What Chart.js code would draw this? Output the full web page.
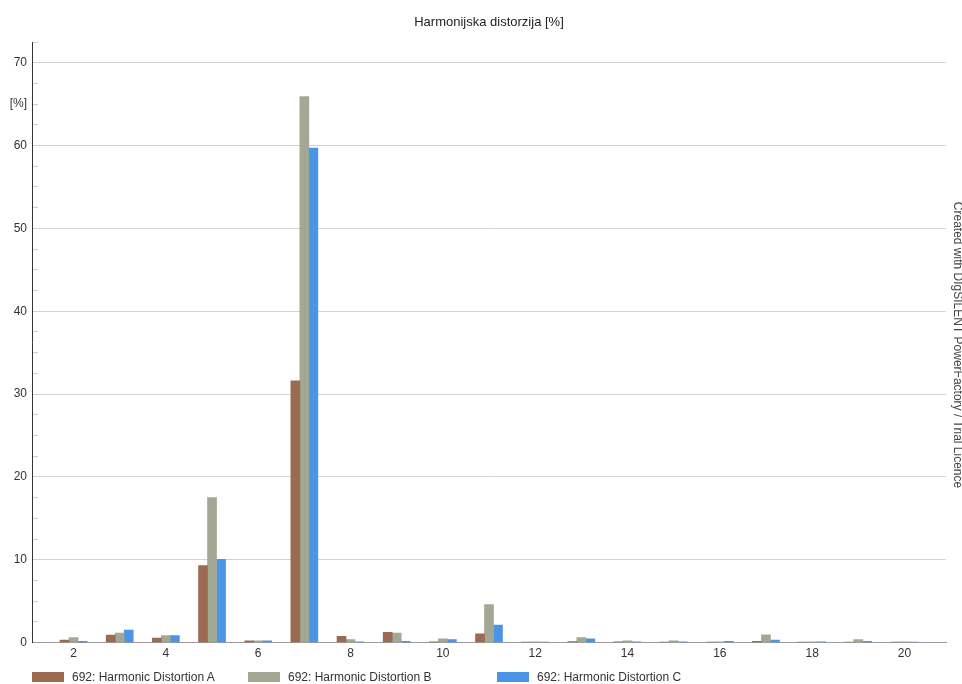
<!DOCTYPE html>
<html>
<head>
<meta charset="utf-8">
<script src="https://cdn.jsdelivr.net/npm/chart.js@4.4.1/dist/chart.umd.min.js"></script>
<style>
  body { margin: 0; background: #fff; }
  #wrap { position: relative; width: 962px; height: 684px; }
  #legend { position: absolute; left: 0; top: 670px; width: 962px; height: 14px;
            font: 12px Arial, 'Liberation Sans', sans-serif; color: #333; }
  .item { position: absolute; top: 0; height: 14px; display: flex; align-items: center; white-space: nowrap; }
  .box { width: 32px; height: 10px; margin-right: 8px; }
</style>
</head>
<body>
<div id="wrap">
  <canvas id="harmonics" width="962" height="684"></canvas>
  <div id="legend"></div>
</div>
<script>
// harmonic order on the x axis
const harmonics = [2, 3, 4, 5, 6, 7, 8, 9, 10, 11, 12, 13, 14, 15, 16, 17, 18, 19, 20];

// values, in %
const distA = [0.3, 0.9, 0.55, 9.3, 0.2, 31.6, 0.75, 1.25, 0.1, 1.05, 0.05, 0.12, 0.08, 0.05, 0.05, 0.15, 0.05, 0.05, 0.05];
const distB = [0.6, 1.15, 0.85, 17.5, 0.2, 65.9, 0.35, 1.15, 0.45, 4.6, 0.1, 0.6, 0.2, 0.2, 0.1, 0.95, 0.1, 0.35, 0.1];
const distC = [0.15, 1.5, 0.85, 10.05, 0.2, 59.7, 0.1, 0.15, 0.35, 2.1, 0.05, 0.45, 0.1, 0.1, 0.15, 0.3, 0.1, 0.15, 0.05];

const seriesNames = ['692: Harmonic Distortion A', '692: Harmonic Distortion B', '692: Harmonic Distortion C'];
const seriesColors = ['#9b6a50', '#a2a893', '#4a95e6'];

const xTicks = [2, 4, 6, 8, 10, 12, 14, 16, 18, 20];
const yMajor = [0, 10, 20, 30, 40, 50, 60, 70];
const yUnitAt = 65;
const yUnit = '[%]';

const chartTitle = 'Harmonijska distorzija [%]';
const watermark = 'Created with DIgSILENT PowerFactory / Trial Licence';

const FONT = "Arial, 'Liberation Sans', sans-serif";

function toPoints(values) {
    return harmonics.map((h, i) => ({ x: h, y: values[i] }));
}

// title over the plot area and the rotated note on the right edge
const captions = {
    id: 'captions',
    afterDraw(chart) {
        const { ctx, chartArea } = chart;
        ctx.save();
        ctx.fillStyle = '#222';
        ctx.font = '13px ' + FONT;
        ctx.textAlign = 'center';
        ctx.textBaseline = 'middle';
        ctx.fillText(chartTitle, (chartArea.left + chartArea.right) / 2, 22);

        ctx.translate(957, 345);
        ctx.rotate(Math.PI / 2);
        ctx.fillStyle = '#444';
        ctx.font = '12px ' + FONT;
        ctx.fillText(watermark, 0, 0);
        ctx.restore();
    }
};

const ctx = document.getElementById('harmonics').getContext('2d');

const chart = new Chart(ctx, {
    type: 'bar',
    data: {
        datasets: [
            { label: seriesNames[0], data: toPoints(distA), backgroundColor: seriesColors[0] },
            { label: seriesNames[1], data: toPoints(distB), backgroundColor: seriesColors[1] },
            { label: seriesNames[2], data: toPoints(distC), backgroundColor: seriesColors[2] }
        ]
    },
    options: {
        responsive: false,
        animation: false,
        devicePixelRatio: 1,
        barThickness: 9,
        layout: { padding: { top: 42, right: 16, bottom: 19, left: 0 } },
        plugins: {
            legend: { display: false },
            title: { display: false },
            tooltip: { enabled: false }
        },
        scales: {
            x: {
                type: 'linear',
                min: 1.1,
                max: 20.9,
                offset: false,
                afterBuildTicks: scale => { scale.ticks = xTicks.map(v => ({ value: v })); },
                grid: { display: false, drawTicks: false },
                border: { display: true, color: '#9a9a9a', width: 1 },
                ticks: {
                    padding: 4,
                    color: '#333',
                    font: { size: 12, family: FONT },
                    autoSkip: false,
                    maxRotation: 0
                }
            },
            y: {
                min: 0,
                max: 72.5,
                afterBuildTicks: scale => {
                    const list = [];
                    for (let v = 0; v <= 72.5; v += 2.5) list.push({ value: v });
                    scale.ticks = list;
                },
                afterFit: scale => { scale.width = 32; },
                grid: {
                    color: c => (c.tick && yMajor.includes(c.tick.value) && c.tick.value !== 0) ? '#d2d2d2' : 'rgba(0,0,0,0)',
                    tickColor: '#cfcfcf',
                    tickLength: -6,
                    lineWidth: 1
                },
                border: { display: true, color: '#333', width: 1 },
                ticks: {
                    padding: 11,
                    color: '#333',
                    autoSkip: false,
                    font: { size: 12, family: FONT },
                    callback: v => {
                        if (yMajor.includes(v)) return String(v);
                        if (v === yUnitAt) return yUnit;
                        return '';
                    }
                }
            }
        }
    },
    plugins: [captions]
});

// legend below the axis, built from the chart's datasets
const legendLeft = [32, 248, 497];
const legendEl = document.getElementById('legend');
chart.data.datasets.forEach((ds, i) => {
    const item = document.createElement('div');
    item.className = 'item';
    item.style.left = legendLeft[i] + 'px';
    const box = document.createElement('span');
    box.className = 'box';
    box.style.background = ds.backgroundColor;
    const text = document.createElement('span');
    text.textContent = ds.label;
    item.appendChild(box);
    item.appendChild(text);
    legendEl.appendChild(item);
});
</script>
</body>
</html>
